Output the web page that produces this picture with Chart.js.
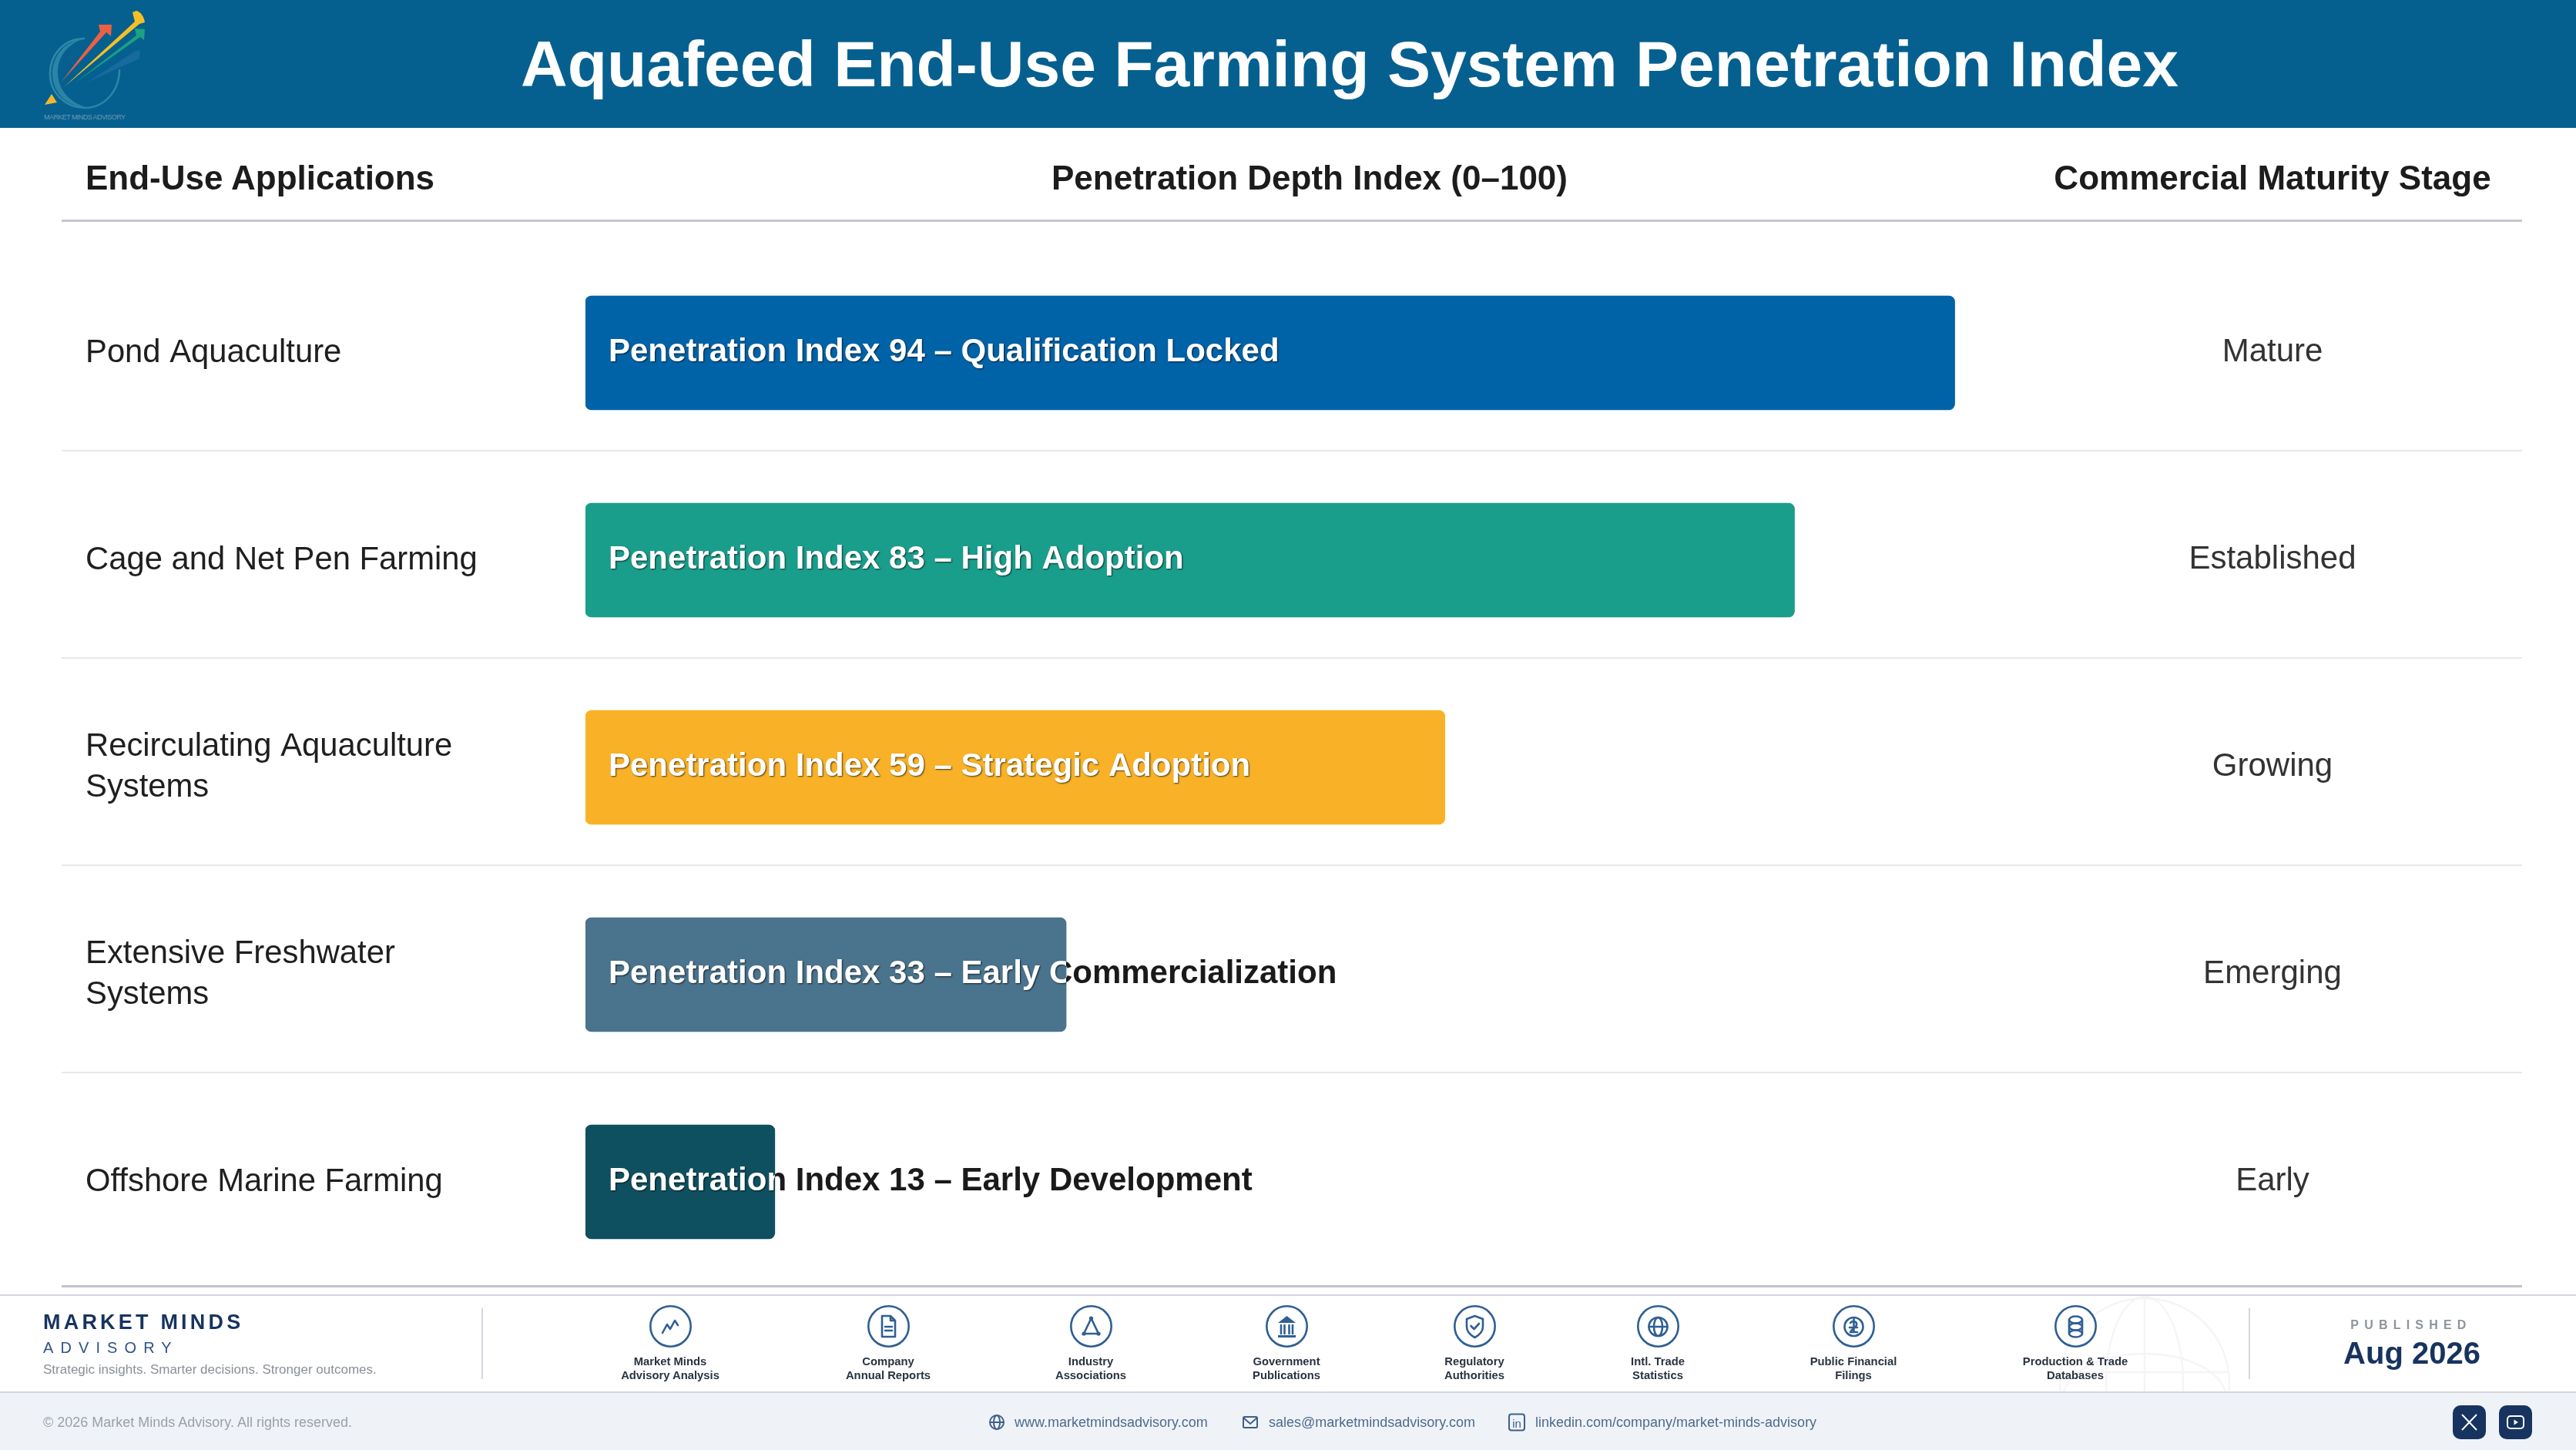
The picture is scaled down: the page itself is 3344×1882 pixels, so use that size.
<!DOCTYPE html>
<html>
<head>
<meta charset="utf-8">
<title>Aquafeed End-Use Farming System Penetration Index</title>
<script src="https://cdn.jsdelivr.net/npm/chart.js@4/dist/chart.umd.min.js"></script>
<style>
  html, body { margin: 0; padding: 0; background: #fff; }
  body { position: relative; width: 3344px; height: 1882px; overflow: hidden; font-family: "Liberation Sans", Arial, sans-serif; }
  canvas { position: absolute; left: 0; top: 0; }
  .t { position: absolute; white-space: nowrap; }
  .box { position: absolute; }
  svg { position: absolute; overflow: visible; }
  .ic { fill: none; stroke: #2f5f94; stroke-width: 2.6; stroke-linejoin: round; stroke-linecap: round; }
</style>
</head>
<body>
<canvas id="chart" width="3344" height="1882"></canvas>

<!-- header band -->
<div class="box" style="left:0;top:0;width:3344px;height:166px;background:#05608f"></div>
<svg style="left:30px;top:0" width="180" height="165" viewBox="0 0 180 165">
  <defs>
    <linearGradient id="ring" x1="0" y1="0" x2="1" y2="1">
      <stop offset="0" stop-color="#2f8aa9"/><stop offset="1" stop-color="#2a85a8"/>
    </linearGradient>
  </defs>
  <path d="M80 50 C52 50 35 72 35 95 C35 122 56 140 80 140 C104 140 125 120 125 90" fill="none" stroke="url(#ring)" stroke-width="2.5"/>
  <path d="M80 50 C56 52 37 72 38 97 C39 122 58 139 84 140 C62 134 46 118 45 96 C44 74 58 56 80 50 Z" fill="#2b84a5"/>
  <path d="M49 107 L100 41 L98 32 L115 32 L114 47 L108 42 Z" fill="#ec6044"/>
  <path d="M53 113 L145 28 L142 16 L147 14 C152 15 157 21 158 29 L151 31 Z" fill="#f6c024"/>
  <path d="M68 107 L147 46 L145 37 L158 38 L157 52 L152 48 Z" fill="#1ba184"/>
  <path d="M83 107 L146 66 L152 65 L151 76 Z" fill="#2272a8" opacity=".65"/>
  <path d="M28 136 L37 122 L44 133 Z" fill="#f6b62b"/>
  <text x="27" y="155" font-size="9" font-family="Liberation Sans" fill="#6f97b1" textLength="106">MARKET MINDS ADVISORY</text>
</svg>
<div class="t" id="title" style="left:0;width:3504px;text-align:center;top:35px;font-size:84px;line-height:96px;font-weight:700;color:#fff">Aquafeed End-Use Farming System Penetration Index</div>

<!-- column headers -->
<div class="t" style="left:111px;top:205px;font-size:44px;line-height:52px;font-weight:700;color:#1c1c1c">End-Use Applications</div>
<div class="t" style="left:1700px;transform:translateX(-50%);top:205px;font-size:44px;line-height:52px;font-weight:700;color:#1c1c1c">Penetration Depth Index (0–100)</div>
<div class="t" style="left:2950px;transform:translateX(-50%);top:205px;font-size:44px;line-height:52px;font-weight:700;color:#1c1c1c">Commercial Maturity Stage</div>
<div class="box" style="left:80px;top:285px;width:3194px;height:3px;background:#c6c6ce"></div>
<div class="box" style="left:80px;top:1668px;width:3194px;height:3px;background:#c2c2c8"></div>

<!-- footer -->
<div class="box" style="left:0;top:1680px;width:3344px;height:2px;background:#d3d6e2"></div>
<div class="box" style="left:0;top:1806px;width:3344px;height:76px;background:#eff3f8;border-top:2px solid #d3d6e2"></div>
<svg style="left:0;top:0" width="3344" height="1882">
  <clipPath id="fc"><rect x="2600" y="1682" width="400" height="124"/></clipPath>
  <g clip-path="url(#fc)" fill="none" stroke="#f5f5f8" stroke-width="2.5">
    <circle cx="2784" cy="1795" r="110"/>
    <ellipse cx="2784" cy="1795" rx="50" ry="112"/>
    <line x1="2784" y1="1683" x2="2784" y2="1806"/>
    <ellipse cx="2784" cy="1815" rx="106" ry="58"/>
    <line x1="2675" y1="1781" x2="2893" y2="1781"/>
  </g>
</svg>
<div class="t" style="left:56px;top:1700px;font-size:27px;line-height:32px;font-weight:700;letter-spacing:4.2px;color:#17335f">MARKET MINDS</div>
<div class="t" style="left:56px;top:1737px;font-size:20px;line-height:24px;letter-spacing:9.1px;color:#2f5488">ADVISORY</div>
<div class="t" style="left:56px;top:1767px;font-size:17px;line-height:22px;color:#8a8f98">Strategic insights. Smarter decisions. Stronger outcomes.</div>
<div class="box" style="left:625px;top:1698px;width:2px;height:92px;background:#d3d7de"></div>
<div class="box" style="left:2919px;top:1698px;width:2px;height:92px;background:#d3d7de"></div>
<div id="sources"></div>
<div class="t" style="left:3130px;transform:translateX(-50%);top:1710px;font-size:16px;line-height:20px;font-weight:700;letter-spacing:7.2px;color:#8f949c">PUBLISHED</div>
<div class="t" style="left:3131px;transform:translateX(-50%);top:1733px;font-size:40px;line-height:46px;font-weight:700;color:#17335f">Aug 2026</div>

<div class="t" style="left:56px;top:1835px;font-size:18px;line-height:22px;color:#9aa0a8">© 2026 Market Minds Advisory. All rights reserved.</div>
<svg style="left:1282px;top:1834px" width="24" height="24" viewBox="0 0 24 24"><g fill="none" stroke="#3f6088" stroke-width="2"><circle cx="12" cy="12" r="9"/><ellipse cx="12" cy="12" rx="4" ry="9"/><line x1="3" y1="12" x2="21" y2="12"/></g></svg>
<div class="t" style="left:1317px;top:1835px;font-size:18px;line-height:22px;color:#4e6a8e">www.marketmindsadvisory.com</div>
<svg style="left:1611px;top:1834px" width="24" height="24" viewBox="0 0 24 24"><g fill="none" stroke="#3f6088" stroke-width="2"><rect x="3" y="5" width="18" height="14" rx="1.5"/><path d="M3 6 L12 14 L21 6"/></g></svg>
<div class="t" style="left:1647px;top:1835px;font-size:18px;line-height:22px;color:#4e6a8e">sales@marketmindsadvisory.com</div>
<svg style="left:1957px;top:1834px" width="24" height="24" viewBox="0 0 24 24"><g fill="none" stroke="#3f6088" stroke-width="2"><rect x="2" y="1.5" width="20" height="21" rx="3"/></g><text x="12" y="18.5" font-size="15" text-anchor="middle" font-family="Liberation Sans" fill="#3f6088">in</text></svg>
<div class="t" style="left:1993px;top:1835px;font-size:18px;line-height:22px;color:#4e6a8e">linkedin.com/company/market-minds-advisory</div>
<div class="box" style="left:3184px;top:1824px;width:43px;height:44px;border-radius:10px;background:#17335f"></div>
<svg style="left:3184px;top:1824px" width="43" height="44"><path d="M12 12 L31 32 M31 12 L12 32" stroke="#fff" stroke-width="2" fill="none"/></svg>
<div class="box" style="left:3244px;top:1824px;width:43px;height:44px;border-radius:10px;background:#17335f"></div>
<svg style="left:3244px;top:1824px" width="43" height="44"><rect x="11" y="14" width="21" height="16" rx="4" stroke="#fff" stroke-width="2" fill="none"/><path d="M19.5 18.5 L25 22 L19.5 25.5 Z" fill="#fff"/></svg>

<script>
// Chart data
const categories = [
    ["Pond Aquaculture"],
    ["Cage and Net Pen Farming"],
    ["Recirculating Aquaculture", "Systems"],
    ["Extensive Freshwater", "Systems"],
    ["Offshore Marine Farming"]
];
const penetrationValues = [94, 83, 59, 33, 13];
const adoptionLabels = ["Qualification Locked", "High Adoption", "Strategic Adoption", "Early Commercialization", "Early Development"];
const maturityStages = ["Mature", "Established", "Growing", "Emerging", "Early"];
const barColors = ["#0063a8", "#1a9e8c", "#f9b227", "#4a738d", "#0f5060"];

// Footer source list
const sourceNames = [
    ["Market Minds", "Advisory Analysis"],
    ["Company", "Annual Reports"],
    ["Industry", "Associations"],
    ["Government", "Publications"],
    ["Regulatory", "Authorities"],
    ["Intl. Trade", "Statistics"],
    ["Public Financial", "Filings"],
    ["Production & Trade", "Databases"]
];
const sourceCenters = [870, 1153, 1416, 1670, 1914, 2152, 2406, 2694];
const sourceIcons = [
    '<path class="ic" d="M17 36 L23 25 L27 31 L33 20 L37 26"/>',
    '<path class="ic" d="M19 14 H30 L36 20 V41 H19 Z M30 14 V20 H36 M23 28 H32 M23 33 H32"/>',
    '<path class="ic" d="M27.5 17 L18 37 H37 Z"/><circle cx="27.5" cy="17" r="2.6" fill="#2f5f94"/><circle cx="18" cy="37" r="2.6" fill="#2f5f94"/><circle cx="37" cy="37" r="2.6" fill="#2f5f94"/>',
    '<path d="M16 23 L27.5 14 L39 23 Z" fill="#2f5f94"/><path class="ic" d="M20 26 V37 M24.5 26 V37 M30.5 26 V37 M35 26 V37"/><path d="M16 39 H39 V42 H16 Z" fill="#2f5f94"/>',
    '<path class="ic" d="M27.5 14 L38 18 V28 C38 35 33 39 27.5 42 C22 39 17 35 17 28 V18 Z M22.5 27 L26.5 31 L33 24"/>',
    '<circle class="ic" cx="27.5" cy="28" r="12"/><ellipse class="ic" cx="27.5" cy="28" rx="5.5" ry="12"/><line class="ic" x1="15.5" y1="28" x2="39.5" y2="28"/>',
    '<circle class="ic" cx="27.5" cy="28" r="12"/><path class="ic" d="M23 23 C26 19 32 21 31 26 C30 30 24 31 23 35 H32 M27.5 18 V34 M22 29 H32"/>',
    '<ellipse class="ic" cx="27.5" cy="19" rx="8.5" ry="4.5"/><ellipse class="ic" cx="27.5" cy="28" rx="8.5" ry="4.5"/><ellipse class="ic" cx="27.5" cy="37" rx="8.5" ry="4.5"/><path class="ic" d="M19 19 V37 M36 19 V37"/>'
];

document.getElementById("sources").innerHTML = sourceNames.map((lines, i) => `
    <svg style="left:${sourceCenters[i] - 27.5}px;top:1694px" width="55" height="55" viewBox="0 0 55 55"><circle class="ic" cx="27.5" cy="27.5" r="26.2"/>${sourceIcons[i]}</svg>
    <div class="t" style="left:${sourceCenters[i]}px;transform:translateX(-50%);top:1758px;font-size:14.8px;line-height:18px;font-weight:700;color:#2a3342;text-align:center">${lines[0]}<br>${lines[1]}</div>
`).join("");

// Draws the row rules, right hand stage column and the two-tone bar labels
const rowDecorations = {
    id: "rowDecorations",
    beforeDatasetsDraw(chart) {
        const ctx = chart.ctx;
        const y = chart.scales.y;
        ctx.save();
        ctx.strokeStyle = "#e8e8ea";
        ctx.lineWidth = 2;
        categories.slice(0, -1).forEach((c, i) => {
            const rowY = y.getPixelForValue(i) + 127;
            ctx.beginPath();
            ctx.moveTo(80, rowY);
            ctx.lineTo(3274, rowY);
            ctx.stroke();
        });
        ctx.restore();
    },
    afterDatasetsDraw(chart) {
        const ctx = chart.ctx;
        const bars = chart.getDatasetMeta(0).data;
        const left = chart.chartArea.left;
        ctx.save();
        ctx.textBaseline = "alphabetic";

        // stage column
        ctx.font = '42px "Liberation Sans"';
        ctx.fillStyle = "#333333";
        ctx.textAlign = "center";
        maturityStages.forEach((stage, i) => ctx.fillText(stage, 2950, bars[i].y + 11));

        // bar labels, dark outside the bar and white inside
        ctx.font = 'bold 42px "Liberation Sans"';
        ctx.textAlign = "left";
        penetrationValues.forEach((value, i) => {
            const label = `Penetration Index ${value} – ${adoptionLabels[i]}`;
            const textX = left + 30;
            const textY = bars[i].y + 11;
            ctx.save();
            ctx.beginPath();
            ctx.rect(bars[i].x, 0, 3344, 1882);
            ctx.clip();
            ctx.fillStyle = "#1a1a1a";
            ctx.fillText(label, textX, textY);
            ctx.restore();

            ctx.save();
            ctx.beginPath();
            ctx.rect(left, bars[i].y - 74, bars[i].x - left, 148);
            ctx.clip();
            ctx.shadowColor = "rgba(0,0,0,0.7)";
            ctx.shadowBlur = 2;
            ctx.shadowOffsetX = 1;
            ctx.shadowOffsetY = 1;
            ctx.fillStyle = "#ffffff";
            ctx.fillText(label, textX, textY);
            ctx.restore();
        });
        ctx.restore();
    }
};

const penetrationChart = new Chart(document.getElementById("chart"), {
    type: "bar",
    data: {
        labels: categories,
        datasets: [{
            data: penetrationValues,
            backgroundColor: barColors,
            barThickness: 148,
            borderRadius: 8,
            borderSkipped: false
        }]
    },
    options: {
        indexAxis: "y",
        responsive: false,
        animation: false,
        devicePixelRatio: 1,
        layout: { padding: { left: 111, right: 693, top: 323.5, bottom: 213.5 } },
        plugins: { legend: { display: false }, tooltip: { enabled: false } },
        scales: {
            x: { display: false, min: 0, max: 100 },
            y: {
                afterFit: scale => { scale.width = 649; },
                grid: { display: false },
                border: { display: false },
                ticks: {
                    crossAlign: "far",
                    color: "#1f1f1f",
                    font: { family: '"Liberation Sans"', size: 41.8, lineHeight: 1.25 }
                }
            }
        }
    },
    plugins: [rowDecorations]
});
</script>
</body>
</html>
